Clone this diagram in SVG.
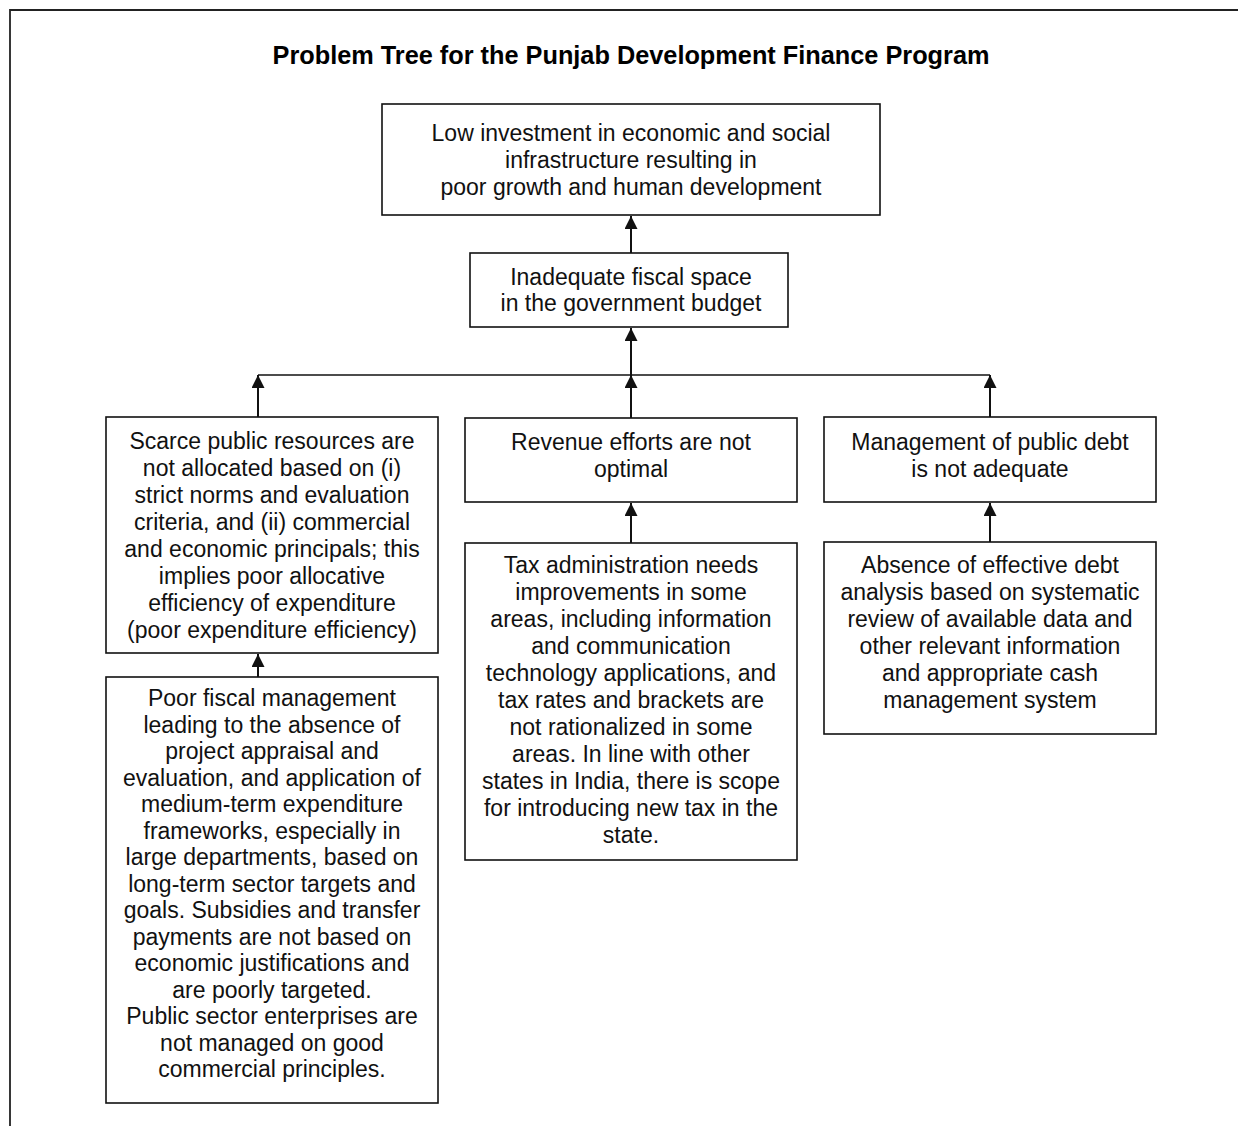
<svg xmlns="http://www.w3.org/2000/svg" width="1238" height="1126" viewBox="0 0 1238 1126">
<style>
.box{fill:#fff;stroke:#111;stroke-width:1.6}
.t{font-family:"Liberation Sans",Arial,sans-serif;font-size:23px;fill:#111;text-anchor:middle}
.title{font-family:"Liberation Sans",Arial,sans-serif;font-size:25.3px;font-weight:bold;fill:#000;text-anchor:middle}
.ln{stroke:#111;stroke-width:2;fill:none}
.hl{stroke:#111;stroke-width:1.5;fill:none}
</style>
<defs>
<marker id="ah" viewBox="0 0 13 13" refX="13" refY="6.5" markerWidth="13" markerHeight="13" markerUnits="userSpaceOnUse" orient="auto">
<path d="M0,0 L13,6.5 L0,13 z" fill="#111"/>
</marker>
</defs>
<rect width="1238" height="1126" fill="#fff"/>
<path d="M10,1126 V10 H1238" fill="none" stroke="#222" stroke-width="1.8"/>
<text class="title" x="631" y="64">Problem Tree for the Punjab Development Finance Program</text>

<g id="connectors">
<line class="ln" x1="631" y1="253" x2="631" y2="216" marker-end="url(#ah)"/>
<line class="ln" x1="631" y1="375" x2="631" y2="328" marker-end="url(#ah)"/>
<line class="hl" x1="258" y1="375" x2="990" y2="375"/>
<line class="ln" x1="258" y1="417" x2="258" y2="375" marker-end="url(#ah)"/>
<line class="ln" x1="631" y1="418" x2="631" y2="375" marker-end="url(#ah)"/>
<line class="ln" x1="990" y1="417" x2="990" y2="375" marker-end="url(#ah)"/>
<line class="ln" x1="258" y1="677" x2="258" y2="654" marker-end="url(#ah)"/>
<line class="ln" x1="631" y1="543" x2="631" y2="503" marker-end="url(#ah)"/>
<line class="ln" x1="990" y1="542" x2="990" y2="503" marker-end="url(#ah)"/>
</g>

<g id="n-top">
<rect class="box" x="382" y="104" width="498" height="111"/>
<text class="t" x="631" y="141">Low investment in economic and social</text>
<text class="t" x="631" y="168">infrastructure resulting in</text>
<text class="t" x="631" y="195">poor growth and human development</text>
</g>

<g id="n-fiscal">
<rect class="box" x="470" y="253" width="318" height="74"/>
<text class="t" x="631" y="285">Inadequate fiscal space</text>
<text class="t" x="631" y="311">in the government budget</text>
</g>

<g id="n-scarce">
<rect class="box" x="106" y="417" width="332" height="236"/>
<text class="t" x="272" y="449">Scarce public resources are</text>
<text class="t" x="272" y="476">not allocated based on (i)</text>
<text class="t" x="272" y="503">strict norms and evaluation</text>
<text class="t" x="272" y="530">criteria, and (ii) commercial</text>
<text class="t" x="272" y="557">and economic principals; this</text>
<text class="t" x="272" y="584">implies poor allocative</text>
<text class="t" x="272" y="611">efficiency of expenditure</text>
<text class="t" x="272" y="638">(poor expenditure efficiency)</text>
</g>

<g id="n-revenue">
<rect class="box" x="465" y="418" width="332" height="84"/>
<text class="t" x="631" y="450">Revenue efforts are not</text>
<text class="t" x="631" y="477">optimal</text>
</g>

<g id="n-debt">
<rect class="box" x="824" y="417" width="332" height="85"/>
<text class="t" x="990" y="450">Management of public debt</text>
<text class="t" x="990" y="477">is not adequate</text>
</g>

<g id="n-poorfiscal">
<rect class="box" x="106" y="677" width="332" height="426"/>
<text class="t" x="272" y="706">Poor fiscal management</text>
<text class="t" x="272" y="732.5">leading to the absence of</text>
<text class="t" x="272" y="759">project appraisal and</text>
<text class="t" x="272" y="785.5">evaluation, and application of</text>
<text class="t" x="272" y="812">medium-term expenditure</text>
<text class="t" x="272" y="838.5">frameworks, especially in</text>
<text class="t" x="272" y="865">large departments, based on</text>
<text class="t" x="272" y="891.5">long-term sector targets and</text>
<text class="t" x="272" y="918">goals. Subsidies and transfer</text>
<text class="t" x="272" y="944.5">payments are not based on</text>
<text class="t" x="272" y="971">economic justifications and</text>
<text class="t" x="272" y="997.5">are poorly targeted.</text>
<text class="t" x="272" y="1024">Public sector enterprises are</text>
<text class="t" x="272" y="1050.5">not managed on good</text>
<text class="t" x="272" y="1077">commercial principles.</text>
</g>

<g id="n-tax">
<rect class="box" x="465" y="543" width="332" height="317"/>
<text class="t" x="631" y="573">Tax administration needs</text>
<text class="t" x="631" y="600">improvements in some</text>
<text class="t" x="631" y="627">areas, including information</text>
<text class="t" x="631" y="654">and communication</text>
<text class="t" x="631" y="681">technology applications, and</text>
<text class="t" x="631" y="708">tax rates and brackets are</text>
<text class="t" x="631" y="735">not rationalized in some</text>
<text class="t" x="631" y="762">areas. In line with other</text>
<text class="t" x="631" y="789">states in India, there is scope</text>
<text class="t" x="631" y="816">for introducing new tax in the</text>
<text class="t" x="631" y="843">state.</text>
</g>

<g id="n-absence">
<rect class="box" x="824" y="542" width="332" height="192"/>
<text class="t" x="990" y="573">Absence of effective debt</text>
<text class="t" x="990" y="600">analysis based on systematic</text>
<text class="t" x="990" y="627">review of available data and</text>
<text class="t" x="990" y="654">other relevant information</text>
<text class="t" x="990" y="681">and appropriate cash</text>
<text class="t" x="990" y="708">management system</text>
</g>
</svg>
